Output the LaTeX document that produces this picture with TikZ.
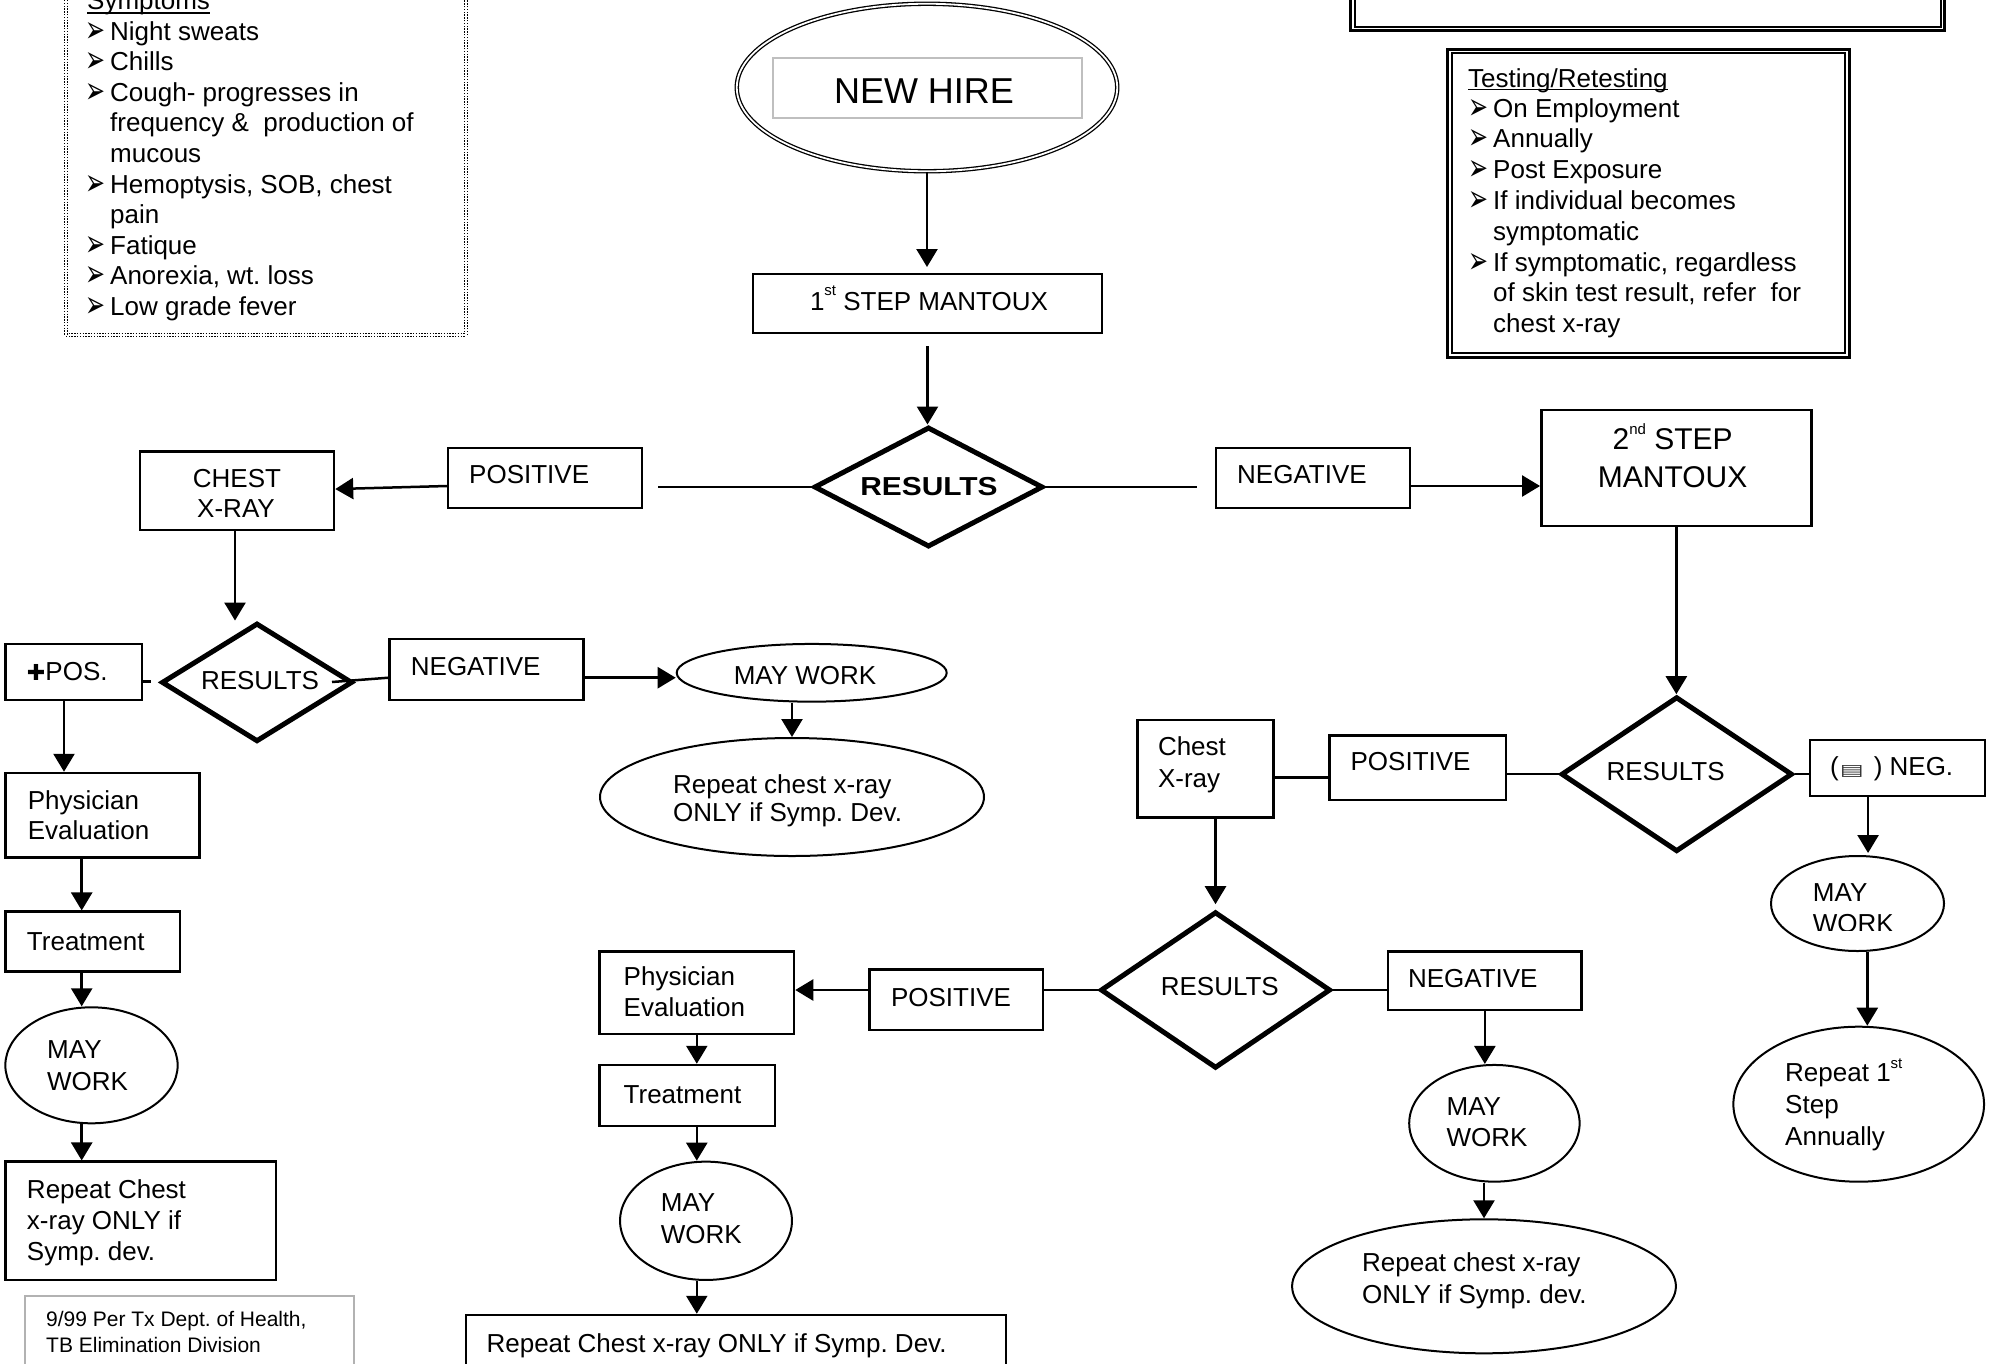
\documentclass[tikz,border=0pt]{standalone}
\usepackage{fontspec}
\usepackage{graphicx}
\setmainfont{Liberation Sans}
\newfontfamily\djv{DejaVu Sans}
\usetikzlibrary{arrows.meta,shapes.geometric,fit}
\newcommand\supr[2]{\raisebox{#1}{\fontsize{15}{15}\selectfont #2}}
\newcommand\txtL[4]{\node[txt,anchor=base west] (#1) at (#2,#3) {#4};}
\newcommand\txtC[4]{\node[txt,anchor=base] (#1) at (#2,#3) {#4};}
\newcommand\rbx[6][]{\node[box,#1,fit={(#3,#4) (#5,#6)}] (#2) {};}
\newcommand\elx[5][]{\node[ellbox,#1,minimum width=#4pt,minimum height=#5pt] (#2) at (#3) {};}
\newcommand\dmx[4]{\node[dmd,minimum width=#3pt,minimum height=#4pt] (#1) at (#2) {};}
\newcommand\blt[3]{\node[bul,xshift=-2pt,yshift=-2pt] (#1) at (#2,#3) {\resizebox{20pt}{20pt}{➢}};}
\tikzset{
  txt/.style={inner sep=0pt, font=\fontsize{26}{31}\selectfont},
  bul/.style={inner sep=0pt, anchor=base west, font=\djv\fontsize{26}{26}\selectfont},
  box/.style={draw, rectangle, line width=2.5pt, inner sep=0pt},
  ellbox/.style={draw, ellipse, line width=2pt, inner sep=0pt},
  dmd/.style={draw, diamond, line width=5pt, inner sep=0pt, line join=miter},
  con/.style={line width=2.5pt},
  arr/.style={line width=2.5pt, -{Triangle[length=18pt,width=21pt]}},
}
\frenchspacing
\begin{document}
\begin{tikzpicture}[x=1pt,y=-1pt]
\useasboundingbox (0,0) rectangle (2007,1363);
\fill[white] (0,0) rectangle (2007,1363);
\clip (0,0) rectangle (2007,1363);

% ---------- Symptoms box ----------
\node[draw,line width=1.3pt,double,double distance=1.6pt,dash pattern=on 1.4pt off 1.4pt,inner sep=0pt,fit={(65.7,-30) (466,335)}] (symbox) {};
\txtL{symh}{87}{9.5}{Symptoms}
\draw[line width=1.6pt] ([yshift=-3.5pt]symh.base west) -- ([yshift=-3.5pt]symh.base east);
\blt{sb1}{87}{40}\txtL{s1}{110}{40}{Night sweats}
\blt{sb2}{87}{70.6}\txtL{s2}{110}{70.6}{Chills}
\blt{sb3}{87}{101.2}\txtL{s3}{110}{101.2}{Cough- progresses in}
\txtL{s4}{110}{131.8}{frequency \&~ production of}
\txtL{s5}{110}{162.4}{mucous}
\blt{sb6}{87}{193}\txtL{s6}{110}{193}{Hemoptysis, SOB, chest}
\txtL{s7}{110}{223.6}{pain}
\blt{sb8}{87}{254.2}\txtL{s8}{110}{254.2}{Fatique}
\blt{sb9}{87}{284.8}\txtL{s9}{110}{284.8}{Anorexia, wt. loss}
\blt{sb10}{87}{315.4}\txtL{s10}{110}{315.4}{Low grade fever}

% ---------- top right boxes ----------
\node[box,line width=3pt,fit={(1350.5,-20) (1944,30.2)}] (topo) {};
\node[box,line width=2pt,fit={(1354.5,-20) (1940.5,26.5)}] (topi) {};
\node[box,line width=3pt,fit={(1447,49) (1849,357)}] (testo) {};
\node[box,line width=2pt,fit={(1451.5,53) (1844.5,353)}] (testi) {};
\txtL{th}{1468}{87}{Testing/Retesting}
\draw[line width=1.6pt] ([yshift=-2.5pt]th.base west) -- ([yshift=-2.5pt]th.base east);
\blt{tb1}{1470}{117}\txtL{t1}{1493}{117}{On Employment}
\blt{tb2}{1470}{147.8}\txtL{t2}{1493}{147.8}{Annually}
\blt{tb3}{1470}{178.6}\txtL{t3}{1493}{178.6}{Post Exposure}
\blt{tb4}{1470}{209.4}\txtL{t4}{1493}{209.4}{If individual becomes}
\txtL{t5}{1493}{240.2}{symptomatic}
\blt{tb6}{1470}{271}\txtL{t6}{1493}{271}{If symptomatic, regardless}
\txtL{t7}{1493}{301.8}{of skin test result, refer~ for}
\txtL{t8}{1493}{332.6}{chest x-ray}

% ---------- shapes ----------
\node[draw,ellipse,line width=1.3pt,double,double distance=1.8pt,minimum width=380.5pt,minimum height=167.5pt,inner sep=0pt] (newhire) at (927,87.5) {};
\node[draw=black!25,line width=1.8pt,inner sep=0pt,fit={(773,58) (1082,118)}] (nhbox) {};
\rbx[line width=2pt]{step1}{753}{274}{1102}{333}
\dmx{res1}{928.5,487}{229}{120}
\rbx[line width=2pt]{pos1}{448}{447.7}{642}{507.7}
\rbx[line width=2pt]{neg1}{1215.7}{447.7}{1410}{507.7}
\rbx{chest1}{140}{451.7}{334}{530}
\rbx{step2}{1541.3}{410}{1811.4}{526}
\dmx{res2}{257,682.4}{191}{118.7}
\rbx{pospos}{5.4}{644}{142}{700}
\rbx{neg2}{389.7}{639}{583.5}{700}
\elx{may2}{811.7,672.8}{270}{57.7}
\elx{rep2}{792,797}{384}{118}
\rbx{phys1}{5.4}{773}{199.6}{857.7}
\rbx{treat1}{5.4}{911.7}{180}{971.7}
\elx{may1}{91.5,1065.3}{172.3}{116}
\rbx{rep1}{5.4}{1161.7}{276}{1280}
\node[draw=black!30,line width=2pt,inner sep=0pt,fit={(24.6,1296) (354,1400)}] (footer) {};
\dmx{res4}{1676.7,774.2}{231.3}{155}
\rbx{negneg}{1810.2}{740}{1984.9}{796}
\rbx{pos4}{1329.6}{735.7}{1506}{800}
\rbx{chest4}{1137.6}{720}{1273.5}{817.3}
\elx{may5}{1857.5,903.5}{173}{95}
\elx{rep5}{1858.7,1104.2}{250.7}{155}
\dmx{res3}{1215.5,990}{230.1}{156.6}
\rbx{pos3}{869.7}{969.3}{1043}{1030}
\rbx{phys3}{599.6}{951.7}{794}{1034}
\rbx{treat3}{599.6}{1065}{775}{1126}
\elx{may3}{706,1220.8}{171.9}{118.3}
\rbx{bottom3}{466}{1315}{1005.8}{1400}
\rbx{neg3}{1388}{951.7}{1581.7}{1010}
\elx{may4}{1494.4,1123.3}{170.4}{116.7}
\elx{rep4}{1484,1286.3}{383.8}{134}

% ---------- texts ----------
\txtC{nht}{924}{103}{\fontsize{36}{40}\selectfont NEW HIRE}
\txtC{s1t}{929}{310}{1\supr{0.55em}{st} STEP MANTOUX}
\node[txt,anchor=base] (r1t) at (929,495) {\scalebox{1.15}[1]{\bfseries RESULTS}};
\txtL{p1t}{469}{483}{POSITIVE}
\txtL{n1t}{1237}{483.3}{NEGATIVE}
\txtC{c1a}{237}{487.7}{CHEST}
\txtC{c1b}{236}{517}{X-RAY}
\txtC{st2a}{1672.6}{449.3}{\fontsize{30}{34}\selectfont 2\supr{0.5em}{nd} STEP}
\txtC{st2b}{1672.6}{487.3}{\fontsize{30}{34}\selectfont MANTOUX}
\txtC{r2t}{260}{689.3}{RESULTS}
\txtL{ppt}{26.8}{680}{{\djv\fontsize{22}{22}\selectfont ✚}POS.}
\txtL{n2t}{410.7}{675}{NEGATIVE}
\txtC{m2t}{805}{684}{MAY WORK}
\txtL{rp2a}{673}{793}{Repeat chest x-ray}
\txtL{rp2b}{673}{821.7}{ONLY if Symp. Dev.}
\txtL{ph1a}{27.7}{809}{Physician}
\txtL{ph1b}{27.7}{839}{Evaluation}
\txtL{tr1t}{26.8}{950}{Treatment}
\txtL{m1a}{47}{1058.3}{MAY}
\txtL{m1b}{47}{1090}{WORK}
\txtL{rc1a}{26.8}{1198.3}{Repeat Chest}
\txtL{rc1b}{26.8}{1229}{x-ray ONLY if}
\txtL{rc1c}{26.8}{1260}{Symp. dev.}
\node[txt,anchor=base west,font=\fontsize{21}{25}\selectfont] (f1) at (46,1326.7) {9/99 Per Tx Dept. of Health,};
\node[txt,anchor=base west,font=\fontsize{21}{25}\selectfont] (f2) at (46,1352.7) {TB Elimination Division};
\txtC{r4t}{1665.6}{780}{RESULTS}
\txtL{nnt}{1829.9}{775}{(\hspace{1pt}{\color{black!80}\resizebox{24pt}{10pt}{\djv ▤}}\hspace{10pt}) NEG.}
\txtL{p4t}{1350.4}{770.7}{POSITIVE}
\txtL{c4a}{1157.8}{755}{Chest}
\txtL{c4b}{1157.8}{787}{X-ray}
\begin{scope}
\clip (1700,850) rectangle (2007,930);
\txtL{m5a}{1812.7}{901.7}{MAY}
\txtL{m5b}{1812.7}{932.3}{WORK}
\end{scope}
\txtL{rr5a}{1785}{1081.7}{Repeat 1\supr{0.5em}{st}}
\txtL{rr5b}{1785}{1113}{Step}
\txtL{rr5c}{1785}{1145}{Annually}
\txtC{r3t}{1219.8}{995}{RESULTS}
\txtL{p3t}{890.8}{1006.7}{POSITIVE}
\txtL{ph3a}{623.5}{985}{Physician}
\txtL{ph3b}{623.5}{1016.7}{Evaluation}
\txtL{tr3t}{623.5}{1103.3}{Treatment}
\txtL{m3a}{660.7}{1211.7}{MAY}
\txtL{m3b}{660.7}{1243.3}{WORK}
\txtL{bt3}{486.4}{1352.7}{Repeat Chest x-ray ONLY if Symp. Dev.}
\txtL{n3t}{1407.8}{987.3}{NEGATIVE}
\txtL{m4a}{1446.4}{1115}{MAY}
\txtL{m4b}{1446.4}{1146.7}{WORK}
\txtL{rp4a}{1362}{1271.7}{Repeat chest x-ray}
\txtL{rp4b}{1362}{1303.3}{ONLY if Symp. dev.}

% ---------- connectors ----------
\draw[arr] (newhire.south) -- ([yshift=6pt]newhire.south |- step1.north);
\draw[arr] ([yshift=-12pt]step1.south) -- (step1.south |- res1.north);
\coordinate (r1l) at (657.5,487);
\coordinate (r1r) at (1196.6,487);
\draw[con] (res1.west) -- (r1l);
\draw[con] (res1.east) -- (r1r);
\draw[arr] ([yshift=-8.3pt]neg1.east) -- ([yshift=-8.3pt]neg1.east -| step2.west);
\draw[arr] ([yshift=-8.3pt]pos1.west) -- ([yshift=1.8pt]chest1.east);
\draw[arr] ([xshift=-2pt]chest1.south) -- ([xshift=-2pt]chest1.south |- res2.north);
\coordinate (pp1) at (151,681.7);
\draw[con] (pospos.east |- pp1) -- (pp1);
\coordinate (r2i) at (332,682);
\draw[con] (r2i) -- ([yshift=-8.2pt]neg2.west);
\draw[arr] ([yshift=-8.2pt]neg2.east) -- ([yshift=-8.2pt]neg2.east -| may2.west);
\draw[arr] (may2.south -| rep2.north) -- (rep2.north);
\draw[arr] ([xshift=-9.7pt]pospos.south) -- ([xshift=-9.7pt]pospos.south |- phys1.north);
\draw[arr] ([xshift=-20.8pt]phys1.south) -- ([xshift=-20.8pt]phys1.south |- treat1.north);
\draw[arr] ([xshift=-11pt]treat1.south) -- ([xshift=-11pt]treat1.south |- may1.north);
\draw[arr] ([xshift=-9.8pt]may1.south) -- ([xshift=-9.8pt]may1.south |- rep1.north);
\draw[arr] (step2.south) -- (step2.south |- res4.north);
\draw[con] (res4.east) -- (res4.east -| negneg.west);
\draw[con] (res4.west) -- (res4.west -| pos4.east);
\draw[con] ([yshift=-9pt]chest4.east) -- ([yshift=-9pt]chest4.east -| pos4.west);
\draw[arr] ([xshift=-29.5pt]negneg.south) -- ([xshift=-29.5pt,yshift=2pt]negneg.south |- may5.north);
\draw[arr] ([xshift=9.8pt]may5.south) -- ([xshift=9.8pt]may5.south |- rep5.north);
\draw[arr] (chest4.south -| res3.north) -- ([yshift=5pt]res3.north);
\draw[con] (res3.west) -- (res3.west -| pos3.east);
\draw[arr] (res3.west -| pos3.west) -- (res3.west -| phys3.east);
\draw[con] (res3.east) -- (res3.east -| neg3.west);
\draw[arr] (neg3.south) -- (neg3.south |- may4.north);
\draw[arr] (may4.south -| rep4.north) -- (rep4.north);
\draw[arr] (phys3.south) -- (phys3.south |- treat3.north);
\draw[arr] (treat3.south -| phys3.south) -- (phys3.south |- may3.north);
\draw[arr] (may3.south -| phys3.south) -- (phys3.south |- bottom3.north);
\end{tikzpicture}
\end{document}
